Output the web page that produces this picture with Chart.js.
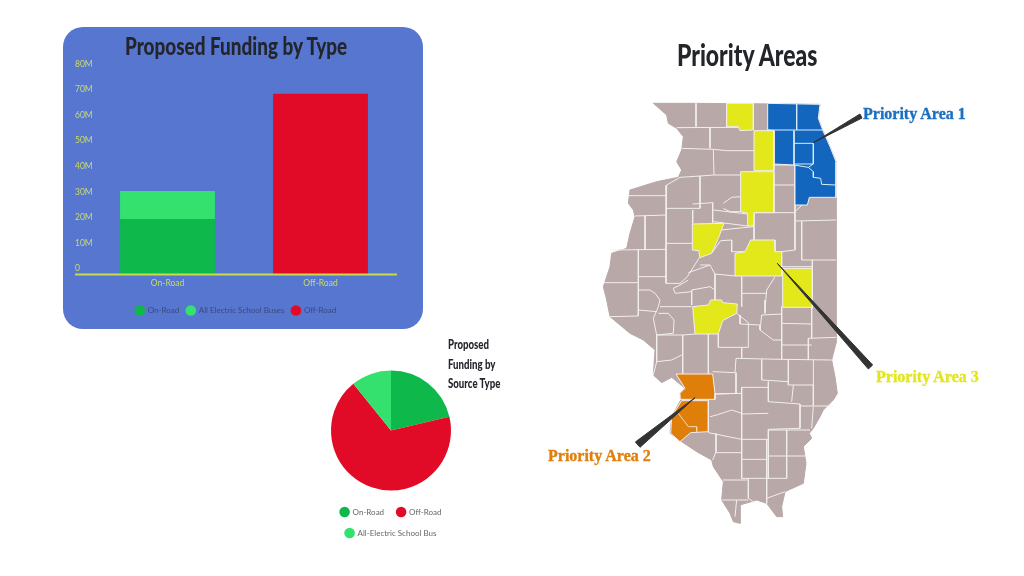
<!DOCTYPE html>
<html>
<head>
<meta charset="utf-8">
<script src="https://cdn.jsdelivr.net/npm/chart.js@4"></script>
<style>
  html, body { margin: 0; background: #fff; }
  body { width: 1024px; height: 576px; position: relative; overflow: hidden; }
  canvas { position: absolute; }
  #panel { position: absolute; left: 63px; top: 27px; width: 360px; height: 302px; border-radius: 20px; background: #5776d0; }
  .txt { position: absolute; white-space: nowrap; }
  .head { font-family: Lato, sans-serif; font-weight: 900; color: #23252b; transform-origin: left top; }
  .area { font-family: "Liberation Serif", serif; font-weight: bold; font-size: 16px; line-height: 20px; -webkit-text-stroke: 0.35px currentColor; }
</style>
</head>
<body>
<div id="panel"></div>
<canvas id="bars" width="346" height="302" style="left:63px;top:27px"></canvas>
<canvas id="pie" width="180" height="181" style="left:301px;top:366px"></canvas>
<canvas id="map" width="470" height="470" style="left:540px;top:70px"></canvas>

<div class="txt head" style="left:125px;top:30px;font-size:25px;line-height:30px;transform:scaleX(.756)">Proposed Funding by Type</div>
<div class="txt head" style="left:448px;top:335px;font-size:12.5px;line-height:19.5px;transform:scaleX(.77)">Proposed<br>Funding by<br>Source Type</div>
<div class="txt head" style="left:677px;top:35px;font-size:30px;line-height:38px;transform:scaleX(.765)">Priority Areas</div>
<div class="txt area" style="left:863px;top:104px;color:#1a6fc0">Priority Area 1</div>
<div class="txt area" style="left:876px;top:367px;color:#e3e61f">Priority Area 3</div>
<div class="txt area" style="left:548px;top:446px;color:#e07f0d">Priority Area 2</div>

<script>
/* DATOS - barras */
const categories = ["On-Road", "Off-Road"];
const onRoad = [21.7, null];
const electricBuses = [11, null];
const offRoad = [null, 70.7];
const yTicks = [0, 10, 20, 30, 40, 50, 60, 70, 80];

/* DATOS - torta */
const pieLabels = ["On-Road", "Off-Road", "All-Electric School Bus"];
const pieValues = [21.3, 67.9, 10.8];

const GREEN = "#0eb84a", LIGHT = "#34e06e", RED = "#e10b28";
const TICK = "#c9dc6a", AXIS = "#c9dc4a";

/* DATOS - mapa, en unidades de mapa (y hacia abajo) */
const southOffset = 630;
const south = pts => pts.map(p => [p[0], p[1] + southOffset]);

const stateOutline = [
  [160,40],[288,40],[660,43],[655,85],[668,120],[690,170],[708,215],[708,650]
].concat(south([
  [708,130],[695,180],[705,230],[712,280],[700,300],[670,330],[660,350],[640,385],[628,400],[635,415],
  [610,440],[618,490],[610,550],[555,575],[545,620],[548,650],[530,650],[500,610],[470,600],[420,615],
  [420,670],[400,665],[390,640],[365,600],[370,545],[340,500],[335,480],[290,455],[245,425],[210,400],
  [215,350],[245,295],[240,280],[255,265],[215,232],[185,248],[160,225],[165,150],[130,120],[90,100],
  [30,50],[20,0]
])).concat([
  [10,590],[30,530],[35,490],[80,475],[90,430],[105,380],[100,360],[85,340],[90,300],[170,275],
  [235,262],[245,240],[230,215],[245,180],[250,140],[230,115],[205,100],[200,75],[160,40]
]);

const countyLines = [
  [[288,40],[288,110]], [[380,40],[380,110]], [[230,113],[420,112]], [[330,112],[330,175]],
  [[245,175],[340,178],[380,182],[462,182]], [[340,178],[342,255]], [[240,262],[300,258],[342,255],[422,255]],
  [[300,258],[300,355]], [[200,285],[240,262]], [[200,285],[198,580]], [[85,317],[200,317]],
  [[105,378],[200,375]], [[135,378],[135,478]], [[200,355],[300,355]], [[278,360],[278,400]],
  [[278,342],[338,338],[338,398]], [[200,460],[277,460]], [[35,480],[198,478]], [[115,478],[115,630]],
  [[12,578],[115,578]], [[115,560],[198,560]], [[340,360],[443,372]], [[340,395],[443,408]],
  [[370,340],[395,322],[422,320]], [[370,355],[390,365],[422,365]], [[522,285],[585,285]], [[522,225],[585,225]],
  [[585,225],[585,480]], [[585,365],[625,327]], [[585,393],[708,390]], [[605,393],[605,510],[708,510]],
  [[462,368],[585,368]], [[462,368],[462,450]], [[362,420],[460,410]], [[395,450],[395,485],[435,485]],
  [[395,450],[362,452],[335,490]], [[545,485],[585,480]], [[545,530],[637,530]], [[637,510],[637,655]],
  [[300,500],[262,560],[240,580],[198,580]], [[300,525],[330,525],[345,552],[405,558]], [[265,548],[330,525]],
  [[345,552],[345,640]], [[425,560],[425,650]], [[425,610],[500,610]], [[525,560],[500,600],[495,660]],
  [[115,600],[150,600],[165,610],[180,630]], [[275,600],[330,590],[345,600]], [[275,600],[275,645]],
  [[220,595],[225,610],[275,605]], [[220,595],[240,585],[265,570]], [[180,650],[275,650]], [[180,630],[175,650]]
].concat([
  [[30,50],[115,48],[115,30],[170,35]], [[115,0],[115,48]], [[175,20],[160,55],[170,105],[220,100],[222,60],[205,40],[175,40]],
  [[170,105],[248,105],[248,222]], [[248,105],[285,102]], [[170,105],[170,185],[215,180],[245,165]], [[170,185],[160,225]],
  [[325,102],[325,222]], [[355,102],[355,142],[445,142],[445,68],[410,40]], [[338,215],[405,218],[408,175],[545,178]],
  [[425,142],[425,175]], [[420,45],[420,72],[480,75],[480,90],[520,120],[545,120]], [[485,45],[480,90]], [[485,45],[545,42]],
  [[495,0],[495,40]], [[545,20],[545,178]], [[545,70],[635,72]], [[545,135],[635,135]], [[625,115],[708,112]],
  [[625,115],[625,180]], [[545,178],[695,180]], [[635,20],[635,115]], [[485,178],[485,240],[565,245]],
  [[565,180],[565,255],[640,255],[640,180]], [[505,245],[505,305],[600,312],[600,385],[505,388]], [[580,255],[575,305]],
  [[640,255],[640,318],[700,318]], [[600,318],[640,318]], [[425,262],[505,262]], [[425,262],[425,535]],
  [[408,218],[408,280],[345,282]], [[345,282],[425,280]], [[330,350],[350,345],[395,330],[425,340]], [[325,398],[425,418]],
  [[348,400],[348,455],[338,480]], [[425,342],[505,340]], [[425,418],[505,418]], [[505,388],[505,535]],
  [[560,390],[560,535]], [[505,390],[630,390]], [[640,320],[635,385]], [[425,478],[500,478]], [[505,468],[615,468]],
  [[425,535],[560,535]], [[345,458],[425,458]], [[500,418],[500,610]], [[445,535],[445,595]], [[368,540],[442,540]],
  [[365,600],[445,600]], [[410,600],[405,650]], [[445,595],[460,605]], [[500,595],[555,575]]
].map(south));

const blueArea = [[503,40],[660,43],[655,85],[668,120],[690,170],[708,215],[708,322],[628,322],[622,345],[585,345],[585,225],[522,222],[522,122],[503,120]];
const blueLines = [
  [[590,40],[590,120]], [[503,120],[668,120]], [[582,122],[582,225]], [[582,160],[640,160],[640,222],[582,222]],
  [[640,222],[625,232],[640,245],[640,262],[662,265],[665,283],[708,285]], [[582,225],[625,232]]
];
const yellowAreas = [
  [[380,40],[460,40],[460,120],[420,122],[415,110],[380,110]],
  [[462,122],[522,122],[522,242],[462,242]],
  [[422,245],[522,245],[522,368],[462,368],[460,408],[443,408],[443,370],[422,365]],
  [[277,402],[372,400],[355,445],[335,490],[300,503],[296,482],[277,480]],
  [[452,450],[525,450],[525,485],[545,485],[545,558],[405,558],[405,490],[435,485]],
  [[548,535],[637,535],[637,652],[548,652]],
  south([[278,20],[325,15],[332,0],[365,0],[368,8],[412,12],[410,40],[368,62],[355,102],[285,102]])
];
const orangeAreas = [
  south([[228,222],[338,222],[345,280],[345,298],[242,298],[240,280],[255,265]]),
  south([[245,302],[325,302],[325,395],[272,398],[240,425],[212,400],[215,350]])
];
const orangeLines = [south([[235,340],[265,380],[290,380],[290,395]])];
const pointers = [
  [[640,158],[780,72],[786,84]],
  south([[285,293],[106,426],[120,442]]),
  [[532,520],[818,825],[805,837]]
];

const toXY = pts => pts.map(p => ({ x: p[0], y: p[1] }));
const closed = pts => toXY(pts.concat([pts[0]]));

/* linea base que sigue a la izquierda del eje */
const baseLine = {
  id: "baseLine",
  afterDatasetsDraw(chart) {
    const y = chart.scales.y.getPixelForValue(0);
    const ctx = chart.ctx;
    ctx.save();
    ctx.strokeStyle = AXIS;
    ctx.lineWidth = 2;
    ctx.beginPath();
    ctx.moveTo(chart.scales.y.left, y);
    ctx.lineTo(chart.scales.x.right, y);
    ctx.stroke();
    ctx.restore();
  }
};

/* BARRAS */
new Chart(document.getElementById("bars"), {
  type: "bar",
  data: {
    labels: categories,
    datasets: [
      { label: "On-Road", data: onRoad, backgroundColor: GREEN },
      { label: "All Electric School Buses", data: electricBuses, backgroundColor: LIGHT },
      { label: "Off-Road", data: offRoad, backgroundColor: RED }
    ]
  },
  options: {
    responsive: false,
    animation: false,
    categoryPercentage: 1,
    barPercentage: 0.62,
    layout: { padding: { left: 12, right: 12, top: 43, bottom: 4.5 } },
    scales: {
      x: {
        stacked: true,
        afterFit: axis => { axis.height = 24.5; },
        grid: { display: false, drawTicks: false },
        border: { display: false },
        ticks: { color: TICK, font: { family: "Lato", size: 8.5 }, padding: 4 }
      },
      y: {
        stacked: true,
        min: 0,
        max: 80,
        afterBuildTicks: axis => { axis.ticks = yTicks.map(v => ({ value: v })); },
        afterFit: axis => { axis.width = 16; },
        border: { display: false },
        grid: { display: false, drawTicks: false },
        ticks: {
          color: TICK,
          font: { family: "Lato", size: 8.5 },
          mirror: true,
          padding: -16,
          labelOffset: -6,
          callback: v => (v === 0 ? "0" : v + "M")
        }
      }
    },
    plugins: {
      tooltip: { enabled: false },
      legend: {
        position: "bottom",
        labels: {
          usePointStyle: true,
          boxWidth: 12,
          boxHeight: 7.5,
          padding: 7.5,
          color: "#3b4a78",
          font: { family: "Lato", size: 8 }
        }
      }
    }
  },
  plugins: [baseLine]
});

/* TORTA */
new Chart(document.getElementById("pie"), {
  type: "pie",
  data: {
    labels: pieLabels,
    datasets: [{ data: pieValues, backgroundColor: [GREEN, RED, LIGHT], borderWidth: 0 }]
  },
  options: {
    responsive: false,
    animation: false,
    radius: 60,
    plugins: {
      tooltip: { enabled: false },
      legend: {
        position: "bottom",
        labels: {
          usePointStyle: true,
          boxWidth: 12,
          boxHeight: 7.5,
          padding: 13,
          color: "#666",
          font: { family: "Lato", size: 8 }
        }
      }
    }
  }
});

/* MAPA */
const mapSets = [];
function addPolygon(pts, fill, stroke) {
  mapSets.push({ data: closed(pts), polygonFill: fill, borderColor: stroke, borderWidth: 1 });
}
function addLine(pts, stroke) {
  mapSets.push({ data: toXY(pts), borderColor: stroke, borderWidth: 1 });
}

addPolygon(stateOutline, "#b8a8a8", "#b8a8a8");
countyLines.forEach(l => addLine(l, "#f3eeee"));
addPolygon(blueArea, "#1266bd", "#f3eeee");
blueLines.forEach(l => addLine(l, "#d9ecfa"));
yellowAreas.forEach(a => addPolygon(a, "#e3e81b", "#f3eeee"));
orangeAreas.forEach(a => addPolygon(a, "#e07e0a", "#f3eeee"));
orangeLines.forEach(l => addLine(l, "#f3d9b0"));
pointers.forEach(p => addPolygon(p, "#333333", "#333333"));

const polygonFill = {
  id: "polygonFill",
  beforeDatasetDraw(chart, args) {
    const color = chart.data.datasets[args.index].polygonFill;
    if (!color) return;
    const ctx = chart.ctx;
    ctx.save();
    ctx.beginPath();
    args.meta.data.forEach((pt, i) => (i ? ctx.lineTo(pt.x, pt.y) : ctx.moveTo(pt.x, pt.y)));
    ctx.fillStyle = color;
    ctx.fill();
    ctx.restore();
  }
};

new Chart(document.getElementById("map"), {
  type: "scatter",
  data: {
    // chart.js dibuja del ultimo al primero
    datasets: mapSets.reverse().map(s => Object.assign(s, { showLine: true, pointRadius: 0, tension: 0, clip: false }))
  },
  options: {
    responsive: false,
    animation: false,
    scales: {
      x: { display: false, min: -180, max: 1230 },
      y: { display: false, min: -60, max: 1350, reverse: true }
    },
    plugins: { legend: { display: false }, tooltip: { enabled: false } }
  },
  plugins: [polygonFill]
});
</script>
</body>
</html>
